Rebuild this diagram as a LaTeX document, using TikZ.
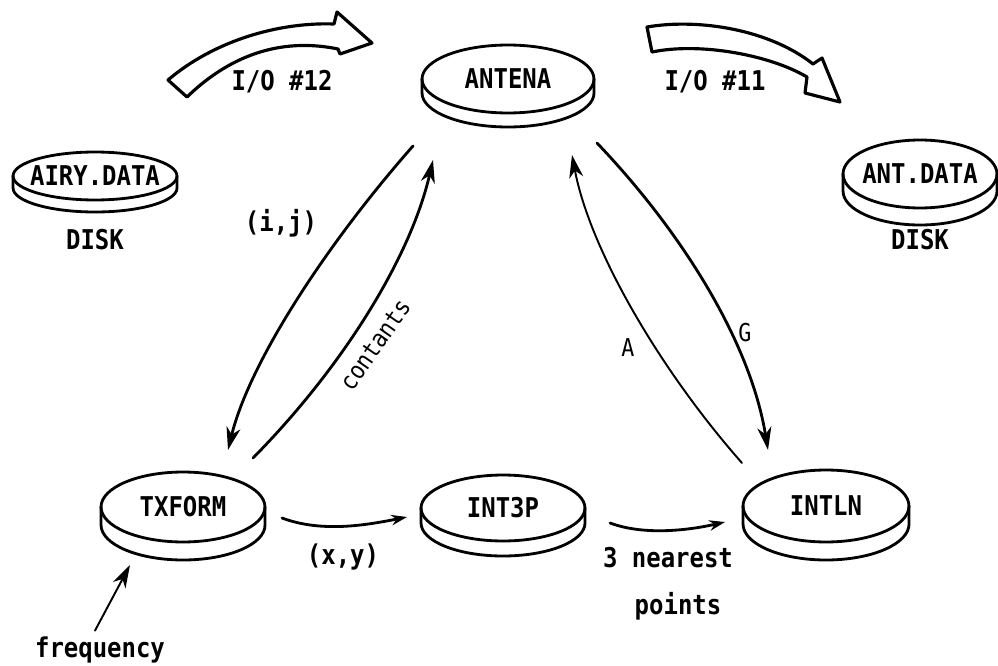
\documentclass[tikz,border=0pt]{standalone}
\usepackage{fontspec}
\newfontfamily\dskfont{DejaVu Sans Mono}[FakeStretch=0.88]
\usepackage{tikz}
\usetikzlibrary{arrows.meta,shapes.geometric}
% a disk: name, centre, x radius, y radius, rim depth, label
\newcommand\disk[6]{%
\node[disk, minimum width=#3*0.04cm, minimum height=#4*0.04cm] (#1) at (#2) {\makebox[0pt]{#6}};
\draw[disk line] (#1.west) -- ++(0,#5) arc[start angle=180, end angle=0, x radius=#3, y radius=#4] -- (#1.east);
}

\begin{document}
\begin{tikzpicture}[x=0.02cm,y=-0.02cm,line cap=round,line join=round,
	every node/.style={font=\dskfont\bfseries\fontsize{15.5}{18}\selectfont},
	disk/.style={ellipse, draw, line width=1.6pt, inner sep=0pt, outer sep=0pt},
	disk line/.style={line width=1.6pt},
	flow/.style={line width=1.6pt, -{Stealth[length=13pt,width=8pt,inset=4pt]}},
	thin flow/.style={flow, line width=1.1pt},
	short flow/.style={line width=1.6pt, -{Stealth[length=9pt,width=6pt,inset=3pt]}},
	hand/.style={font=\dskfont\fontsize{14}{16}\selectfont},
	big arrow/.style={line width=1.8pt}]

	\path[fill=white, use as bounding box] (0,0) rectangle (998,666);

	%% the disks
	\disk{airy}{95,176}{82}{24}{12}{AIRY.DATA}
	\disk{ant}{508,79}{86}{34}{14}{ANTENA}
	\disk{antd}{920,174}{77}{34}{17}{ANT.DATA}
	\disk{tx}{183,507}{82}{35}{18}{TXFORM}
	\disk{ithree}{503,508}{82}{33}{15}{INT3P}
	\disk{iln}{826,506}{83}{36}{18}{INTLN}

	\node (diskl) at (95,240) {DISK};
	\node (diskr) at (920,240) {DISK};

	%% I/O arrows
	\draw[big arrow] (168,80) .. controls (215,40) and (280,22) .. (334,24) -- (337,12) -- (372,43) -- (340,54) -- (338,49) .. controls (270,35) and (220,65) .. (187,97) -- cycle;
	\draw[big arrow] (647,27) .. controls (700,18) and (770,30) .. (813,64) -- (822,58) -- (840,102) -- (805,93) -- (807,77) .. controls (770,55) and (700,42) .. (652,52) -- cycle;
	\node (ioa) at (282,82) {I/O \#12};
	\node (iob) at (715,82) {I/O \#11};

	%% labels
	\node (ij) at (281,223) {(i,j)};
	\node[hand, rotate=55] (cons) at (375,345) {contants};
	\node[hand] (la) at (628,348) {A};
	\node[hand] (lg) at (745,333) {G};
	\node (xy) at (343,557) {(x,y)};
	\node (near) at (668,558) {3 nearest};
	\node (pts) at (678,606) {points};
	\node (freq) at (100,650) {frequency};

	%% flows
	\draw[flow] ([shift={(-95,67)}]ant.center) .. controls +(-83,94) and +(22,-90) .. ([shift={(45,-57)}]tx.center);
	\draw[flow] ([shift={(70,-49)}]tx.center) .. controls +(87,-88) and +(-23,100) .. ([shift={(-75,81)}]ant.center);
	\draw[thin flow] ([shift={(-84,-43)}]iln.center) .. controls +(-82,-93) and +(18,95) .. ([shift={(64,76)}]ant.center);
	\draw[flow] ([shift={(89,64)}]ant.center) .. controls +(83,87) and +(-18,-110) .. ([shift={(-58,-56)}]iln.center);
	\draw[short flow] ([shift={(99,11)}]tx.center) .. controls +(40,15) and +(-40,8) .. ([shift={(-96,9)}]ithree.center);
	\draw[short flow] ([shift={(107,15)}]ithree.center) .. controls +(35,13) and +(-35,8) .. ([shift={(-101,16)}]iln.center);
	\draw[thin flow] ([shift={(-5,0)}]freq.north) -- ([shift={(-53,58)}]tx.center);

\end{tikzpicture}
\end{document}
